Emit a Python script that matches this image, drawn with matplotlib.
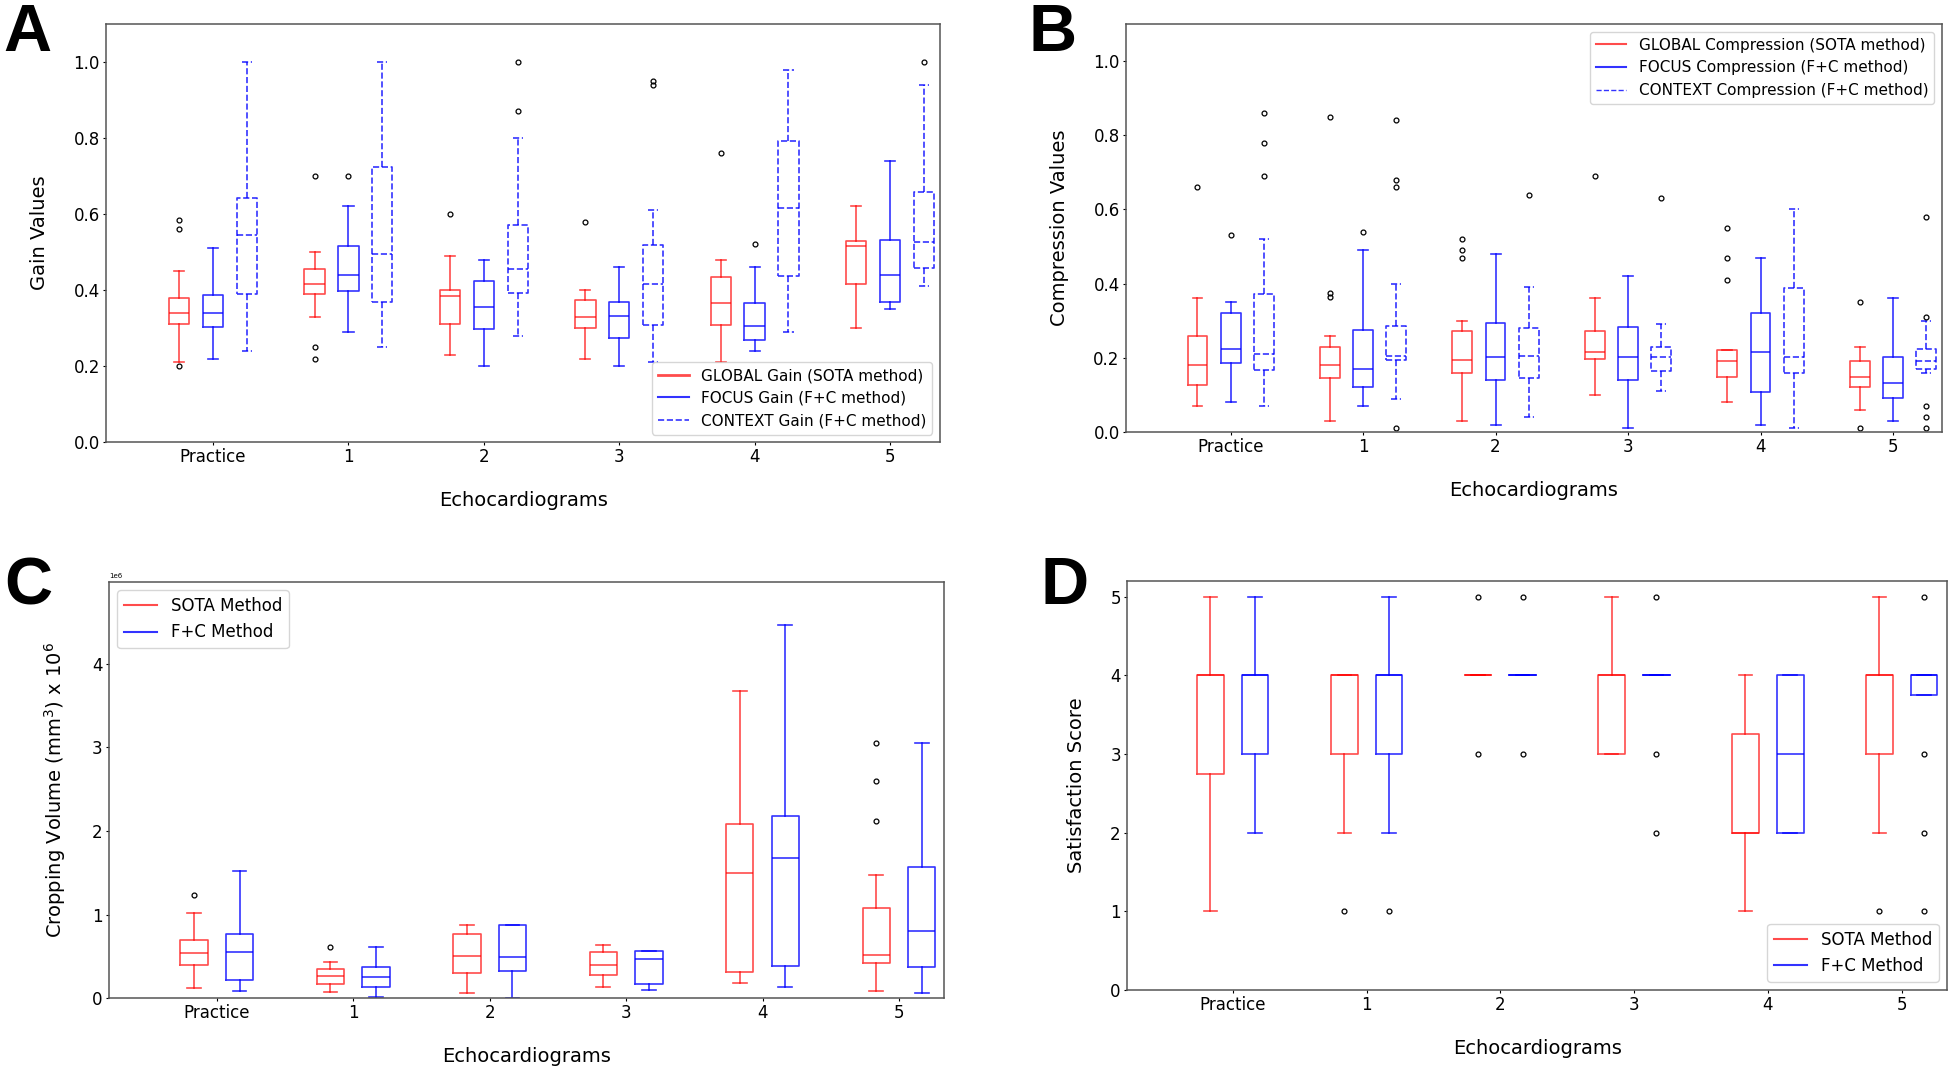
import matplotlib
matplotlib.use('Agg')
import matplotlib.pyplot as plt
from matplotlib.lines import Line2D

# groups on the x axis
groups = ['Practice', '1', '2', '3', '4', '5']

# box stats per group: (whisker low, q1, median, q3, whisker high)
gain_global = [(0.21, 0.31, 0.34, 0.38, 0.45), (0.33, 0.39, 0.416, 0.456, 0.50),
               (0.23, 0.31, 0.385, 0.40, 0.49), (0.22, 0.30, 0.33, 0.373, 0.40),
               (0.21, 0.308, 0.366, 0.435, 0.48), (0.30, 0.416, 0.515, 0.53, 0.62)]
gain_global_out = [[0.585, 0.56, 0.20], [0.70, 0.25, 0.22], [0.60], [0.58], [0.76], []]
gain_focus = [(0.22, 0.303, 0.341, 0.388, 0.51), (0.29, 0.398, 0.441, 0.515, 0.62),
              (0.20, 0.297, 0.355, 0.424, 0.48), (0.20, 0.275, 0.331, 0.37, 0.46),
              (0.24, 0.268, 0.305, 0.366, 0.46), (0.35, 0.37, 0.441, 0.533, 0.74)]
gain_focus_out = [[], [0.70], [], [], [0.52], []]
gain_context = [(0.24, 0.391, 0.546, 0.643, 1.0), (0.25, 0.369, 0.495, 0.724, 1.0),
                (0.28, 0.392, 0.456, 0.57, 0.80), (0.21, 0.309, 0.416, 0.518, 0.61),
                (0.29, 0.438, 0.616, 0.791, 0.98), (0.41, 0.458, 0.526, 0.659, 0.94)]
gain_context_out = [[], [], [0.87, 1.0], [0.95, 0.94], [], [1.0]]

comp_global = [(0.07, 0.127, 0.181, 0.26, 0.36), (0.03, 0.145, 0.181, 0.228, 0.26),
               (0.03, 0.158, 0.195, 0.273, 0.30), (0.10, 0.198, 0.215, 0.273, 0.36),
               (0.08, 0.149, 0.191, 0.221, 0.221), (0.06, 0.12, 0.149, 0.191, 0.23)]
comp_global_out = [[0.66], [0.85, 0.374, 0.363], [0.52, 0.49, 0.47], [0.69],
                   [0.55, 0.47, 0.41], [0.35, 0.01]]
comp_focus = [(0.08, 0.185, 0.225, 0.32, 0.35), (0.07, 0.12, 0.171, 0.275, 0.49),
              (0.02, 0.139, 0.201, 0.293, 0.48), (0.01, 0.139, 0.201, 0.283, 0.42),
              (0.02, 0.109, 0.215, 0.322, 0.47), (0.03, 0.091, 0.131, 0.201, 0.36)]
comp_focus_out = [[0.53], [0.54], [], [], [], []]
comp_context = [(0.07, 0.167, 0.211, 0.373, 0.52), (0.09, 0.193, 0.205, 0.285, 0.40),
                (0.04, 0.146, 0.205, 0.28, 0.39), (0.11, 0.164, 0.201, 0.23, 0.29),
                (0.01, 0.16, 0.201, 0.387, 0.60), (0.16, 0.171, 0.191, 0.225, 0.30)]
comp_context_out = [[0.86, 0.78, 0.69], [0.84, 0.68, 0.66, 0.01], [0.64], [0.63], [],
                    [0.58, 0.31, 0.07, 0.04, 0.01]]

# cropping volume in mm^3
vol_sota = [(0.121e6, 0.392e6, 0.537e6, 0.699e6, 1.014e6), (0.073e6, 0.174e6, 0.259e6, 0.343e6, 0.428e6),
            (0.065e6, 0.303e6, 0.501e6, 0.772e6, 0.873e6), (0.129e6, 0.279e6, 0.400e6, 0.549e6, 0.630e6),
            (0.186e6, 0.315e6, 1.495e6, 2.081e6, 3.681e6), (0.081e6, 0.424e6, 0.517e6, 1.075e6, 1.475e6)]
vol_sota_out = [[1.236e6], [0.606e6], [], [], [], [3.051e6, 2.598e6, 2.117e6]]
vol_fc = [(0.085e6, 0.218e6, 0.549e6, 0.772e6, 1.523e6), (0.008e6, 0.137e6, 0.246e6, 0.368e6, 0.606e6),
          (0.004e6, 0.319e6, 0.489e6, 0.873e6, 0.873e6), (0.097e6, 0.166e6, 0.469e6, 0.566e6, 0.566e6),
          (0.129e6, 0.388e6, 1.673e6, 2.174e6, 4.461e6), (0.061e6, 0.368e6, 0.800e6, 1.572e6, 3.051e6)]
vol_fc_out = [[], [], [], [], [], []]

sat_sota = [(1, 2.75, 4, 4, 5), (2, 3, 4, 4, 4), (4, 4, 4, 4, 4),
            (3, 3, 4, 4, 5), (1, 2, 2, 3.25, 4), (2, 3, 4, 4, 5)]
sat_sota_out = [[], [1], [5, 3], [], [], [1]]
sat_fc = [(2, 3, 4, 4, 5), (2, 3, 4, 4, 5), (4, 4, 4, 4, 4),
          (4, 4, 4, 4, 4), (2, 2, 3, 4, 4), (3.75, 3.75, 4, 4, 4)]
sat_fc_out = [[], [1], [5, 3], [5, 3, 2], [], [5, 3, 2, 1]]

RED = (1.0, 0.0, 0.0, 0.7)
BLUE = (0.0, 0.0, 1.0, 0.8)


def make_stats(rows, outs):
    stats = []
    for (lo, q1, med, q3, hi), fl in zip(rows, outs):
        stats.append({'whislo': lo, 'q1': q1, 'med': med, 'q3': q3,
                      'whishi': hi, 'fliers': fl})
    return stats


def draw_boxes(ax, rows, outs, offset, width, color, ls='-'):
    line = dict(color=color, linewidth=1.2, linestyle=ls)
    pos = [i + offset for i in range(len(rows))]
    ax.bxp(make_stats(rows, outs), positions=pos, widths=width,
           boxprops=line, whiskerprops=line, capprops=line, medianprops=line,
           flierprops=dict(marker='o', markerfacecolor='none', markeredgecolor='black',
                           markersize=3.5, linestyle='none', markeredgewidth=0.9),
           manage_ticks=False)


def style_axes(ax, ylabel):
    ax.set_xticks(range(len(groups)))
    ax.set_xticklabels(groups)
    ax.tick_params(labelsize=12, length=2, pad=2.5)
    ax.set_xlabel('Echocardiograms', fontsize=14, labelpad=18)
    ax.set_ylabel(ylabel, fontsize=14, labelpad=17.5)
    for s in ax.spines.values():
        s.set_color('#555555')
        s.set_linewidth(1.1)


fig = plt.figure(figsize=(19.5, 10.68), dpi=100)

# A - gain
ax = fig.add_axes([0.0544, 0.586, 0.4277, 0.3915])
draw_boxes(ax, gain_global, gain_global_out, -0.25, 0.15, RED)
draw_boxes(ax, gain_focus, gain_focus_out, 0.0, 0.15, BLUE)
draw_boxes(ax, gain_context, gain_context_out, 0.25, 0.15, BLUE, '--')
ax.set_xlim(-0.79, 5.37)
ax.set_ylim(0, 1.1)
ax.set_yticks([0.0, 0.2, 0.4, 0.6, 0.8, 1.0])
style_axes(ax, 'Gain Values')
ax.legend(handles=[Line2D([], [], color=RED, lw=2),
                   Line2D([], [], color=BLUE, lw=1.5),
                   Line2D([], [], color=BLUE, lw=1.2, ls='--')],
          labels=['GLOBAL Gain (SOTA method)', 'FOCUS Gain (F+C method)',
                  'CONTEXT Gain (F+C method)'],
          loc='lower right', fontsize=11)

# B - compression
ax = fig.add_axes([0.5774, 0.5955, 0.4185, 0.382])
draw_boxes(ax, comp_global, comp_global_out, -0.25, 0.15, RED)
draw_boxes(ax, comp_focus, comp_focus_out, 0.0, 0.15, BLUE)
draw_boxes(ax, comp_context, comp_context_out, 0.25, 0.15, BLUE, '--')
ax.set_xlim(-0.79, 5.37)
ax.set_ylim(0, 1.1)
ax.set_yticks([0.0, 0.2, 0.4, 0.6, 0.8, 1.0])
style_axes(ax, 'Compression Values')
ax.legend(handles=[Line2D([], [], color=RED, lw=1.5),
                   Line2D([], [], color=BLUE, lw=1.5),
                   Line2D([], [], color=BLUE, lw=1.0, ls='--')],
          labels=['GLOBAL Compression (SOTA method)', 'FOCUS Compression (F+C method)',
                  'CONTEXT Compression (F+C method)'],
          loc='upper right', fontsize=11)

# C - cropping volume
ax = fig.add_axes([0.0559, 0.0655, 0.4282, 0.3895])
draw_boxes(ax, vol_sota, vol_sota_out, -0.167, 0.2, RED)
draw_boxes(ax, vol_fc, vol_fc_out, 0.167, 0.2, BLUE)
ax.set_xlim(-0.79, 5.33)
ax.set_ylim(0, 4.98e6)
style_axes(ax, r'Cropping Volume (mm$^3$) x 10$^6$')
ax.yaxis.get_offset_text().set_fontsize(5)
ax.legend(handles=[Line2D([], [], color=RED, lw=1.5), Line2D([], [], color=BLUE, lw=1.5)],
          labels=['SOTA Method', 'F+C Method'], loc='upper left', fontsize=12)

# D - satisfaction
ax = fig.add_axes([0.578, 0.073, 0.4205, 0.383])
draw_boxes(ax, sat_sota, sat_sota_out, -0.167, 0.2, RED)
draw_boxes(ax, sat_fc, sat_fc_out, 0.167, 0.2, BLUE)
ax.set_xlim(-0.79, 5.34)
ax.set_ylim(0, 5.2)
ax.set_yticks([0, 1, 2, 3, 4, 5])
style_axes(ax, 'Satisfaction Score')
ax.legend(handles=[Line2D([], [], color=RED, lw=1.5), Line2D([], [], color=BLUE, lw=1.5)],
          labels=['SOTA Method', 'F+C Method'], loc='lower right', fontsize=12)

# panel letters
for x, y, s in [(0.0015, 0.997, 'A'), (0.5275, 0.997, 'B'),
                (0.002, 0.4794, 'C'), (0.5338, 0.4794, 'D')]:
    fig.text(x, y, s, fontsize=48, fontweight='bold', family='Liberation Sans',
             ha='left', va='top')

fig.savefig('out.png', dpi=100)
